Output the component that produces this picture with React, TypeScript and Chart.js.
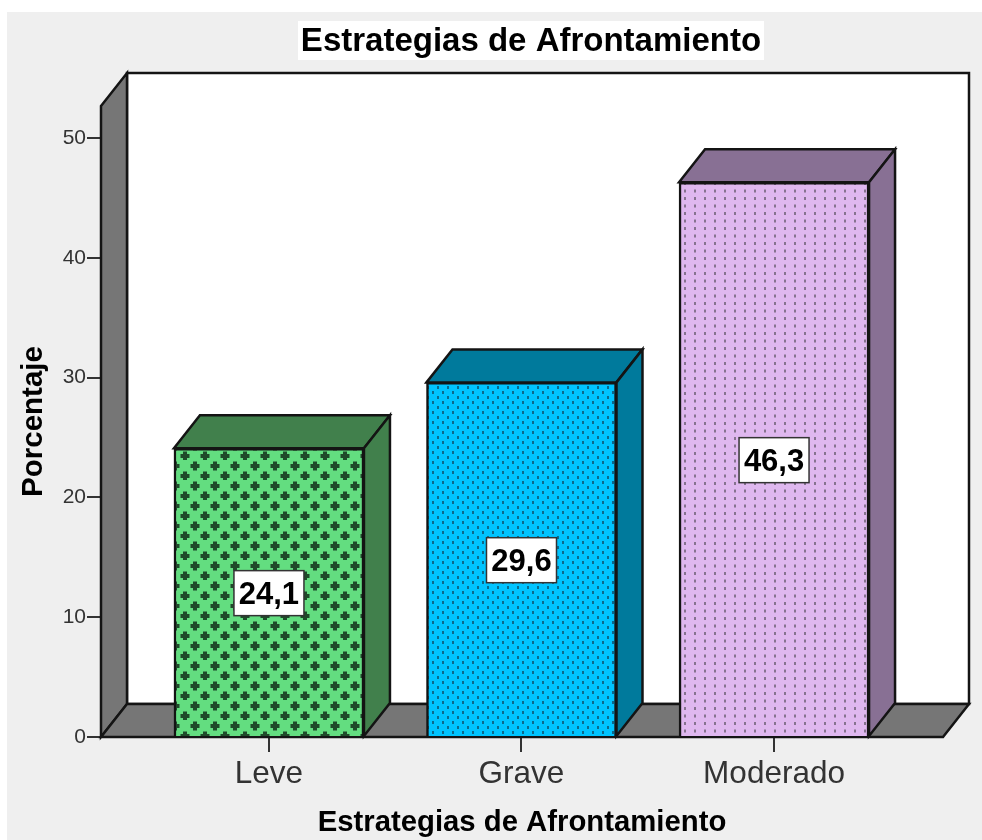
import React, { useEffect, useRef } from "react";
import { Chart, registerables } from "chart.js";

Chart.register(...registerables);

const categories = ["Leve", "Grave", "Moderado"];
const percentages = [24.1, 29.6, 46.3];
const valueLabels = ["24,1", "29,6", "46,3"];
const frontColors = ["#63dd80", "#00c4ff", "#dfb8ef"];
const sideColors = ["#41804c", "#007a9c", "#887094"];
const dashColors = ["#1f4a2a", "#0b6a8c", "#86738f"];

const DEPTH_X = 26;
const DEPTH_Y = 33;
const LINE = "#141414";
const WALL = "#767676";

function tile(w: number, h: number, fill: string, draw: (c: CanvasRenderingContext2D) => void) {
  const cv = document.createElement("canvas");
  cv.width = w;
  cv.height = h;
  const c = cv.getContext("2d")!;
  c.fillStyle = fill;
  c.fillRect(0, 0, w, h);
  c.filter = "blur(0.5px)";
  draw(c);
  return c.createPattern(cv, "repeat")!;
}

function makePatterns() {
  const plus = tile(20, 20, frontColors[0], (c) => {
    c.fillStyle = dashColors[0];
    for (const [x, y] of [[5, 16], [15, 6]]) {
      c.fillRect(x - 2, y - 4.5, 4, 9);
      c.fillRect(x - 4.5, y - 2, 9, 4);
    }
  });
  const dots = tile(10, 10, frontColors[1], (c) => {
    c.fillStyle = dashColors[1];
    c.fillRect(2, 1, 2, 3);
    c.fillRect(7, 6, 2, 3);
  });
  const dashes = tile(10, 15, frontColors[2], (c) => {
    c.fillStyle = dashColors[2];
    c.fillRect(4, 2, 2, 3);
    c.fillRect(4, 9.5, 2, 3);
  });
  return [plus, dots, dashes];
}

function poly(ctx: CanvasRenderingContext2D, pts: number[][], fill: string) {
  ctx.beginPath();
  pts.forEach(([x, y], i) => (i ? ctx.lineTo(x, y) : ctx.moveTo(x, y)));
  ctx.closePath();
  ctx.fillStyle = fill;
  ctx.fill();
  ctx.lineWidth = 2.5;
  ctx.strokeStyle = LINE;
  ctx.lineJoin = "miter";
  ctx.stroke();
}

const scenePlugin = {
  id: "scene",
  afterLayout(chart: any) {
    // the reference's title is centred over the 3D frame, not over the page
    chart.titleBlock.left = 80;
    chart.titleBlock.right = 982;
  },
  beforeDraw(chart: any) {
    const { ctx } = chart;
    ctx.save();
    ctx.fillStyle = "#ffffff";
    ctx.fillRect(0, 0, 982, 840);
    ctx.fillStyle = "#efefef";
    ctx.fillRect(7, 12, 975, 828);
    ctx.fillStyle = "#ffffff";
    ctx.fillRect(298, 21, 466, 39);
    ctx.restore();
  },
  beforeDatasetsDraw(chart: any) {
    const { ctx, chartArea: a } = chart;
    ctx.save();
    const bx = a.left + DEPTH_X;
    const bl = a.bottom - DEPTH_Y;
    const tl = a.top - DEPTH_Y;
    const br = a.right + DEPTH_X;
    poly(ctx, [[bx, tl], [br, tl], [br, bl], [bx, bl]], "#ffffff");
    poly(ctx, [[a.left, a.top], [bx, tl], [bx, bl], [a.left, a.bottom]], WALL);
    poly(ctx, [[a.left, a.bottom], [bx, bl], [br, bl], [a.right, a.bottom]], WALL);
    ctx.restore();
  },
  afterDatasetsDraw(chart: any) {
    const { ctx } = chart;
    ctx.save();
    chart.getDatasetMeta(0).data.forEach((bar: any, i: number) => {
      const half = bar.width / 2;
      const l = bar.x - half;
      const r = bar.x + half;
      poly(ctx, [[l, bar.y], [l + DEPTH_X, bar.y - DEPTH_Y], [r + DEPTH_X, bar.y - DEPTH_Y], [r, bar.y]], sideColors[i]);
      poly(ctx, [[r, bar.y], [r + DEPTH_X, bar.y - DEPTH_Y], [r + DEPTH_X, bar.base - DEPTH_Y], [r, bar.base]], sideColors[i]);

      const cy = (bar.y + bar.base) / 2 + 1;
      ctx.fillStyle = "#ffffff";
      ctx.strokeStyle = "#333333";
      ctx.lineWidth = 1.5;
      ctx.fillRect(bar.x - 35, cy - 22.5, 70, 45);
      ctx.strokeRect(bar.x - 35, cy - 22.5, 70, 45);
      ctx.fillStyle = "#000000";
      ctx.font = "bold 31px 'Liberation Sans'";
      ctx.textAlign = "center";
      ctx.textBaseline = "middle";
      ctx.fillText(valueLabels[i], bar.x, cy + 2);
    });
    ctx.restore();
  },
};

export default function App() {
  const ref = useRef<HTMLCanvasElement>(null);
  useEffect(() => {
    document.body.style.margin = "0";
    const patterns = makePatterns();
    const chart = new Chart(ref.current!, {
      type: "bar",
      data: {
        datasets: [
          {
            label: "Porcentaje",
            data: percentages.map((y, x) => ({ x, y })),
            backgroundColor: patterns as any,
            borderColor: LINE,
            borderWidth: 2.5,
            barThickness: 190,
          },
        ],
      },
      plugins: [scenePlugin as any],
      options: {
        responsive: false,
        animation: false,
        events: [],
        layout: { padding: { top: 20, left: 8, right: 39, bottom: 0 } },
        plugins: {
          legend: { display: false },
          tooltip: { enabled: false },
          title: {
            display: true,
            text: "Estrategias de Afrontamiento",
            color: "#000000",
            font: { family: "'Liberation Sans'", size: 33, weight: "bold", lineHeight: 1.2 },
            padding: { top: 2, bottom: 44.4 },
          },
        },
        scales: {
          x: {
            type: "linear",
            offset: false,
            min: -0.665,
            max: 2.669,
            afterBuildTicks: (s: any) => {
              s.ticks = categories.map((_, i) => ({ value: i }));
            },
            afterFit: (s: any) => {
              s.height = 103;
            },
            grid: { offset: false, drawOnChartArea: false, drawTicks: true, tickLength: 15, color: "#333333", lineWidth: 2 },
            border: { display: false },
            ticks: {
              callback: (v: any) => categories[v],
              autoSkip: false,
              maxRotation: 0,
              color: "#333333",
              padding: 3,
              font: { family: "'Liberation Sans'", size: 31.5 },
            },
            title: {
              display: true,
              text: "Estrategias de Afrontamiento",
              color: "#000000",
              font: { family: "'Liberation Sans'", size: 29.3, weight: "bold", lineHeight: 1.2 },
              padding: { top: 0, bottom: 0 },
            },
          },
          y: {
            min: 0,
            max: 52.67,
            afterFit: (s: any) => {
              s.width = 93;
            },
            grid: { drawOnChartArea: false, drawTicks: true, tickLength: 14, color: "#333333", lineWidth: 2 },
            border: { display: false },
            ticks: {
              stepSize: 10,
              includeBounds: false,
              color: "#333333",
              padding: 1,
              font: { family: "'Liberation Sans'", size: 21 },
            },
            title: {
              display: true,
              text: "Porcentaje",
              color: "#000000",
              font: { family: "'Liberation Sans'", size: 29.5, weight: "bold", lineHeight: 1.2 },
              padding: { top: 8, bottom: 0 },
            },
          },
        },
      } as any,
    });
    return () => chart.destroy();
  }, []);
  return <canvas ref={ref} width={982} height={840} style={{ display: "block" }} />;
}
